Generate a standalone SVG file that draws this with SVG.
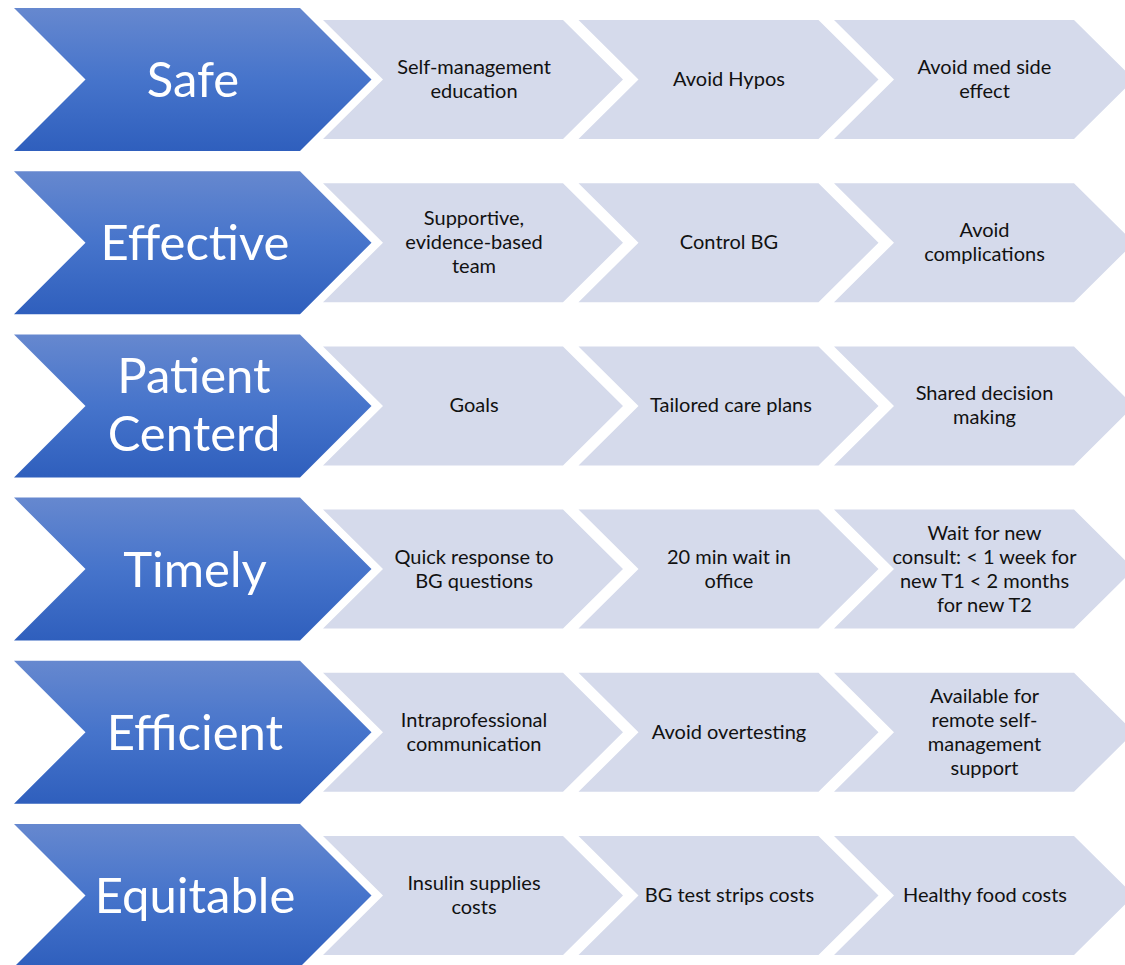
<svg xmlns="http://www.w3.org/2000/svg" width="1125" height="965" viewBox="0 0 1125 965">
  <defs>
    <linearGradient id="blueFill" x1="0" y1="0" x2="0" y2="1">
      <stop offset="0" stop-color="#6688cf"/>
      <stop offset="0.5" stop-color="#4674cb"/>
      <stop offset="1" stop-color="#2f5fbd"/>
    </linearGradient>
    <!-- big chevron, origin at row top-left -->
    <path id="bigChevron" d="M14,0 L300,0 L371.5,71.5 L300,143 L14,143 L85.5,71.5 Z"/>
    <!-- small chevron, origin at its own left edge / row top -->
    <path id="stepChevron" d="M0,12 L240,12 L300,71.5 L240,131 L0,131 L60,71.5 Z"/>
  </defs>
  <style>
    .big { fill: url(#blueFill); }
    .step { fill: #d5daeb; }
    .title { font-family: Lato, "Open Sans", "Liberation Sans", sans-serif; font-size: 49px; fill: #ffffff; text-anchor: middle; }
    .lbl { font-family: Lato, "Open Sans", "Liberation Sans", sans-serif; font-size: 20px; fill: #111111; text-anchor: middle; }
  </style>
  <rect width="1125" height="965" fill="#ffffff"/>

  <!-- Row 1: Safe -->
  <g id="row-safe" transform="translate(0,8)">
    <g id="safe"><use href="#bigChevron" class="big"/><text class="title" x="193" y="89">Safe</text></g>
    <g id="safe-1"><use href="#stepChevron" class="step" x="323"/><text class="lbl" x="474" y="66">Self-management</text><text class="lbl" x="474" y="90">education</text></g>
    <g id="safe-2"><use href="#stepChevron" class="step" x="578.5"/><text class="lbl" x="729" y="78">Avoid Hypos</text></g>
    <g id="safe-3"><use href="#stepChevron" class="step" x="834"/><text class="lbl" x="984.5" y="66">Avoid med side</text><text class="lbl" x="984.5" y="90">effect</text></g>
  </g>

  <!-- Row 2: Effective -->
  <g id="row-effective" transform="translate(0,171.2)">
    <g id="effective"><use href="#bigChevron" class="big"/><text class="title" x="195" y="89">Effective</text></g>
    <g id="effective-1"><use href="#stepChevron" class="step" x="323"/><text class="lbl" x="474" y="54">Supportive,</text><text class="lbl" x="474" y="78">evidence-based</text><text class="lbl" x="474" y="102">team</text></g>
    <g id="effective-2"><use href="#stepChevron" class="step" x="578.5"/><text class="lbl" x="729" y="78">Control BG</text></g>
    <g id="effective-3"><use href="#stepChevron" class="step" x="834"/><text class="lbl" x="984.5" y="66">Avoid</text><text class="lbl" x="984.5" y="90">complications</text></g>
  </g>

  <!-- Row 3: Patient Centerd -->
  <g id="row-patient" transform="translate(0,334.4)">
    <g id="patient-centerd"><use href="#bigChevron" class="big"/><text class="title" x="194" y="59">Patient</text><text class="title" x="194" y="117">Centerd</text></g>
    <g id="patient-1"><use href="#stepChevron" class="step" x="323"/><text class="lbl" x="474" y="78">Goals</text></g>
    <g id="patient-2"><use href="#stepChevron" class="step" x="578.5"/><text class="lbl" x="731" y="78">Tailored care plans</text></g>
    <g id="patient-3"><use href="#stepChevron" class="step" x="834"/><text class="lbl" x="984.5" y="66">Shared decision</text><text class="lbl" x="984.5" y="90">making</text></g>
  </g>

  <!-- Row 4: Timely -->
  <g id="row-timely" transform="translate(0,497.6)">
    <g id="timely"><use href="#bigChevron" class="big"/><text class="title" x="195" y="89">Timely</text></g>
    <g id="timely-1"><use href="#stepChevron" class="step" x="323"/><text class="lbl" x="474" y="66">Quick response to</text><text class="lbl" x="474" y="90">BG questions</text></g>
    <g id="timely-2"><use href="#stepChevron" class="step" x="578.5"/><text class="lbl" x="729" y="66">20 min wait in</text><text class="lbl" x="729" y="90">office</text></g>
    <g id="timely-3"><use href="#stepChevron" class="step" x="834"/><text class="lbl" x="984.5" y="42">Wait for new</text><text class="lbl" x="984.5" y="66">consult: &lt; 1 week for</text><text class="lbl" x="984.5" y="90">new T1 &lt; 2 months</text><text class="lbl" x="984.5" y="114">for new T2</text></g>
  </g>

  <!-- Row 5: Efficient -->
  <g id="row-efficient" transform="translate(0,660.8)">
    <g id="efficient"><use href="#bigChevron" class="big"/><text class="title" x="195" y="89">Efficient</text></g>
    <g id="efficient-1"><use href="#stepChevron" class="step" x="323"/><text class="lbl" x="474" y="66">Intraprofessional</text><text class="lbl" x="474" y="90">communication</text></g>
    <g id="efficient-2"><use href="#stepChevron" class="step" x="578.5"/><text class="lbl" x="729" y="78">Avoid overtesting</text></g>
    <g id="efficient-3"><use href="#stepChevron" class="step" x="834"/><text class="lbl" x="984.5" y="42">Available for</text><text class="lbl" x="984.5" y="66">remote self-</text><text class="lbl" x="984.5" y="90">management</text><text class="lbl" x="984.5" y="114">support</text></g>
  </g>

  <!-- Row 6: Equitable -->
  <g id="row-equitable" transform="translate(0,824)">
    <g id="equitable"><use href="#bigChevron" class="big"/><text class="title" x="195" y="89">Equitable</text></g>
    <g id="equitable-1"><use href="#stepChevron" class="step" x="323"/><text class="lbl" x="474" y="66">Insulin supplies</text><text class="lbl" x="474" y="90">costs</text></g>
    <g id="equitable-2"><use href="#stepChevron" class="step" x="578.5"/><text class="lbl" x="729.5" y="78">BG test strips costs</text></g>
    <g id="equitable-3"><use href="#stepChevron" class="step" x="834"/><text class="lbl" x="985" y="78">Healthy food costs</text></g>
  </g>
</svg>
